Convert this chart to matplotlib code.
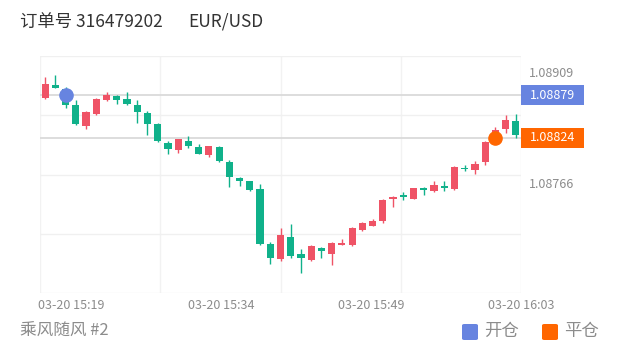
import numpy as np
import matplotlib.pyplot as plt
import matplotlib.transforms as mtransforms
from matplotlib.patches import Rectangle, FancyBboxPatch

plt.rcParams['font.family'] = ['Noto Sans CJK SC', 'DejaVu Sans']

## Data (1-minute candles)
opens = [1.08875, 1.08892, 1.08887, 1.08866, 1.08839, 1.08855, 1.08873, 1.08878,
         1.08874, 1.08866, 1.08856, 1.08842, 1.08818, 1.08809, 1.08820, 1.08813,
         1.08802, 1.08812, 1.08793, 1.08772, 1.08768, 1.08758, 1.08687, 1.08668,
         1.08697, 1.08674, 1.08667, 1.08682, 1.08675, 1.08686, 1.08686, 1.08705,
         1.08711, 1.08717, 1.08745, 1.08750, 1.08746, 1.08760, 1.08756, 1.08761,
         1.08758, 1.08785, 1.08783, 1.08793, 1.08821, 1.08835, 1.08846]
highs = [1.08903, 1.08905, 1.08890, 1.08873, 1.08859, 1.08876, 1.08883, 1.08879,
         1.08883, 1.08873, 1.08859, 1.08843, 1.08820, 1.08823, 1.08827, 1.08816,
         1.08814, 1.08814, 1.08796, 1.08774, 1.08769, 1.08765, 1.08690, 1.08708,
         1.08713, 1.08681, 1.08686, 1.08683, 1.08690, 1.08694, 1.08709, 1.08716,
         1.08719, 1.08745, 1.08749, 1.08755, 1.08760, 1.08761, 1.08769, 1.08768,
         1.08788, 1.08789, 1.08794, 1.08820, 1.08838, 1.08853, 1.08855]
lows = [1.08874, 1.08888, 1.08863, 1.08841, 1.08836, 1.08854, 1.08872, 1.08868,
        1.08867, 1.08843, 1.08828, 1.08819, 1.08804, 1.08805, 1.08811, 1.08803,
        1.08800, 1.08793, 1.08761, 1.08762, 1.08756, 1.08686, 1.08662, 1.08665,
        1.08670, 1.08650, 1.08666, 1.08670, 1.08661, 1.08686, 1.08685, 1.08704,
        1.08710, 1.08715, 1.08735, 1.08744, 1.08745, 1.08750, 1.08755, 1.08756,
        1.08757, 1.08781, 1.08777, 1.08789, 1.08820, 1.08830, 1.08824]
closes = [1.08893, 1.08889, 1.08866, 1.08842, 1.08857, 1.08874, 1.08879, 1.08873,
          1.08868, 1.08857, 1.08842, 1.08820, 1.08810, 1.08823, 1.08814, 1.08804,
          1.08814, 1.08794, 1.08774, 1.08769, 1.08757, 1.08687, 1.08669, 1.08699,
          1.08672, 1.08669, 1.08685, 1.08678, 1.08689, 1.08689, 1.08708, 1.08715,
          1.08717, 1.08744, 1.08748, 1.08748, 1.08759, 1.08757, 1.08763, 1.08760,
          1.08787, 1.08784, 1.08790, 1.08819, 1.08834, 1.08847, 1.08828]

open_price = 1.08879
close_price = 1.08824
open_idx = 2
close_idx = 44
y_labels = [1.08909, 1.08766]
time_labels = ['03-20 15:19', '03-20 15:34', '03-20 15:49', '03-20 16:03']

title_left = '订单号 316479202'
title_right = 'EUR/USD'
footer = '乘风随风 #2'
legend_names = ['开仓', '平仓']

up_col = '#ef5366'
down_col = '#10b18a'
open_col = '#6784e0'
close_col = '#ff6600'

## Plotting
fig = plt.figure(figsize=(6.2, 3.52), dpi=100)
ax = fig.add_axes([40 / 620, 1 - 293 / 352, 481 / 620, 237 / 352])

n = len(opens)
xs = np.arange(n)
ymin, ymax = 1.086243, 1.089296
px = (ymax - ymin) / 237  # one pixel in price units

for x in np.linspace(-0.5, n - 0.5, 5):
    ax.axvline(x, color='#f2f2f2', lw=1, zorder=0)
for y in np.linspace(ymin, ymax, 5):
    ax.axhline(y, color='#f0f0f0', lw=1, zorder=0)

for i in range(n):
    o, h, l, c = opens[i], highs[i], lows[i], closes[i]
    col = up_col if c >= o else down_col
    ax.vlines(xs[i], l, h, color=col, lw=1, zorder=2)
    ax.bar(xs[i], max(abs(c - o), 1.5 * px), bottom=min(o, c), width=0.7,
           color=col, zorder=3)

# mark lines
for p in (open_price, close_price):
    ax.axhline(p, color='#dadada', lw=1.3, zorder=1)

ax.plot(open_idx, open_price, 'o', ms=9.5, color=open_col, zorder=5)
ax.plot(close_idx, close_price, 'o', ms=9.5, color=close_col, zorder=5)

ax.set_xlim(-0.5, n - 0.5)
ax.set_ylim(ymin, ymax)

tpos = np.linspace(2.5, n - 0.5, len(time_labels))
ax.set_xticks(tpos)
ax.set_xticklabels(time_labels)
ax.yaxis.tick_right()
ax.set_yticks(y_labels)
ax.set_yticklabels([f'{v:.5f}' for v in y_labels])
ax.tick_params(axis='x', length=0, pad=4, labelsize=9, labelcolor='#8c8c8c')
ax.tick_params(axis='y', length=0, pad=6, labelsize=9, labelcolor='#8c8c8c')
for s in ax.spines.values():
    s.set_visible(False)

# price boxes on the right
trans = mtransforms.blended_transform_factory(ax.transAxes, ax.transData)
bw = 63 / 481
for p, col in ((open_price, open_col), (close_price, close_col)):
    ax.add_patch(Rectangle((1.0, p - 10 * px), bw, 20 * px, transform=trans,
                           facecolor=col, edgecolor='none', clip_on=False, zorder=6))
    ax.text(1.0 + bw / 2, p, f'{p:.5f}', transform=trans, ha='center', va='center',
            color='white', fontsize=9, zorder=7)

fig.text(20 / 620, 1 - 22 / 352, title_left, fontsize=12.5, color='#333333',
         ha='left', va='center')
fig.text(188 / 620, 1 - 22 / 352, title_right, fontsize=12.5, color='#333333',
         ha='left', va='center')
fig.text(20 / 620, 1 - 331 / 352, footer, fontsize=12, color='#8c8c8c',
         ha='left', va='center')

# legend
for (sx, tx), name, col in zip(((462, 484), (542, 564)), legend_names,
                              (open_col, close_col)):
    fig.patches.append(FancyBboxPatch((sx / 620, 1 - 340 / 352), 16 / 620, 16 / 352,
                                      boxstyle='round,pad=0,rounding_size=0.004',
                                      transform=fig.transFigure, facecolor=col,
                                      edgecolor='none'))
    fig.text(tx / 620, 1 - 331 / 352, name, fontsize=12.5, color='#8c8c8c',
             ha='left', va='center')

fig.savefig('out.png', dpi=100)
